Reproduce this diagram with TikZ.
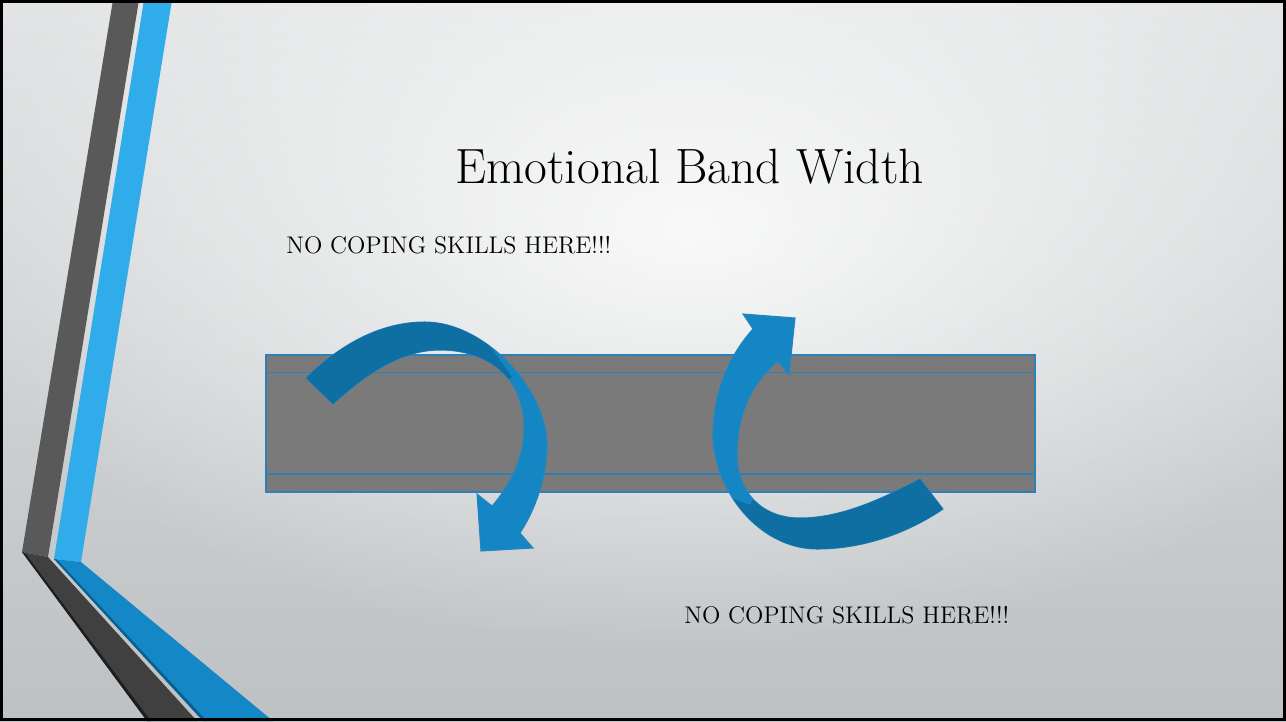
\documentclass[tikz,border=0pt]{standalone}
\usepackage{fontspec}
\usetikzlibrary{fadings}
\definecolor{bgtop}{HTML}{E2E4E5}
\definecolor{bgbot}{HTML}{BDC1C3}
\definecolor{stripedark}{HTML}{595959}
\definecolor{stripedarker}{HTML}{404040}
\definecolor{stripeshadow}{HTML}{1E1E1E}
\definecolor{stripeblue}{HTML}{30ACEA}
\definecolor{stripebluedk}{HTML}{1487C6}
\definecolor{stripeblueedge}{HTML}{0B5F90}
\definecolor{bandgray}{HTML}{7A7A7A}
\definecolor{bandedge}{HTML}{2E80B8}
\definecolor{arrowlight}{HTML}{1586C4}
\definecolor{arrowdark}{HTML}{106FA2}
\definecolor{arrowedge}{HTML}{2585C0}
\tikzfading[name=glowfade, inner color=transparent!0, outer color=transparent!100]
\tikzset{
  arrowface/.style={fill=arrowlight, draw=arrowedge, line width=0.6pt},
  arrowback/.style={fill=arrowdark},
  bandbox/.style={fill=bandgray, draw=bandedge, line width=0.9pt, inner sep=0pt,
    minimum width=15.38cm, minimum height=2.74cm},
  bandline/.style={draw=bandedge, line width=0.9pt},
  slidetext/.style={anchor=base west, inner sep=0pt, text=black},
}
\def\LArrowPath{(306,378) .. controls (345,340) and (385,322) .. (425,322)
  .. controls (485,322) and (548,390) .. (547,447)
  .. controls (546,480) and (535,510) .. (520,533)
  -- (533,548) -- (481,551) -- (477,494) -- (492,506)
  .. controls (515,480) and (525,450) .. (524,425)
  .. controls (522,370) and (480,350) .. (440,350)
  .. controls (400,350) and (365,375) .. (333,404) -- cycle}
\def\RArrowPath{(920,479) .. controls (880,500) and (840,518) .. (800,518)
  .. controls (760,518) and (737,490) .. (737,455)
  .. controls (737,410) and (755,380) .. (778,361)
  -- (789,375) -- (795,318) -- (743,314) -- (753,329)
  .. controls (725,360) and (712,400) .. (713,440)
  .. controls (718,500) and (765,549) .. (817,549)
  .. controls (860,549) and (905,535) .. (943,509) -- cycle}
\begin{document}
\begin{tikzpicture}[x=0.02cm,y=-0.02cm]
\useasboundingbox (0,0) rectangle (1286,721);
% background
\shade[top color=bgtop, bottom color=bgbot] (0,0) rectangle (1286,721);
\begin{scope}
\clip (0,0) rectangle (1286,721);
\fill[white, opacity=0.85, path fading=glowfade] (690,230) ellipse [x radius=760, y radius=420];
\end{scope}
% left stripes
\fill[stripedark] (113,0) -- (139,0) -- (48,557) -- (22,552) -- cycle;
\fill[stripeblue] (144,0) -- (172,0) -- (81,562) -- (54,559) -- cycle;
\fill[stripedarker] (22,552) -- (48,557) -- (197,721) -- (147,721) -- cycle;
\fill[stripeshadow] (22,552) -- (25,553) -- (151,721) -- (147,721) -- cycle;
\fill[stripebluedk] (54,559) -- (81,562) -- (273,721) -- (203,721) -- cycle;
\fill[stripeblueedge] (54,559) -- (57,559.5) -- (207,721) -- (203,721) -- cycle;
% band
\node[bandbox] (band) at (650.5,423.5) {};
\coordinate (bandtopL) at (266,372.5);
\coordinate (bandtopR) at (1035,372.5);
\coordinate (bandbotL) at (266,474);
\coordinate (bandbotR) at (1035,474);
\draw[bandline] (bandtopL) -- (bandtopR);
\draw[bandline] (bandbotL) -- (bandbotR);
% left curved arrow
\path[arrowface] \LArrowPath;
\begin{scope}
\clip (250,300) -- (470,318) -- (512,377) -- (480,400) -- (250,450) -- cycle;
\path[arrowback] \LArrowPath;
\end{scope}
% right curved arrow
\path[arrowface] \RArrowPath;
\begin{scope}
\clip (690,482) -- (750,505) -- (770,470) -- (1000,440) -- (1000,600) -- (690,600) -- cycle;
\path[arrowback] \RArrowPath;
\end{scope}
% texts
\node[slidetext, font=\fontsize{28.2}{32}\selectfont] (title) at (455,183.3) {Emotional Band Width};
\node[slidetext, font=\fontsize{13.7}{16}\selectfont] (note1) at (286,253) {NO COPING SKILLS HERE!!!};
\node[slidetext, font=\fontsize{13.7}{16}\selectfont] (note2) at (684,623) {NO COPING SKILLS HERE!!!};
% frame
\draw[black, line width=1.7pt] (1.5,1.5) rectangle (1284.5,719.5);
\end{tikzpicture}
\end{document}
